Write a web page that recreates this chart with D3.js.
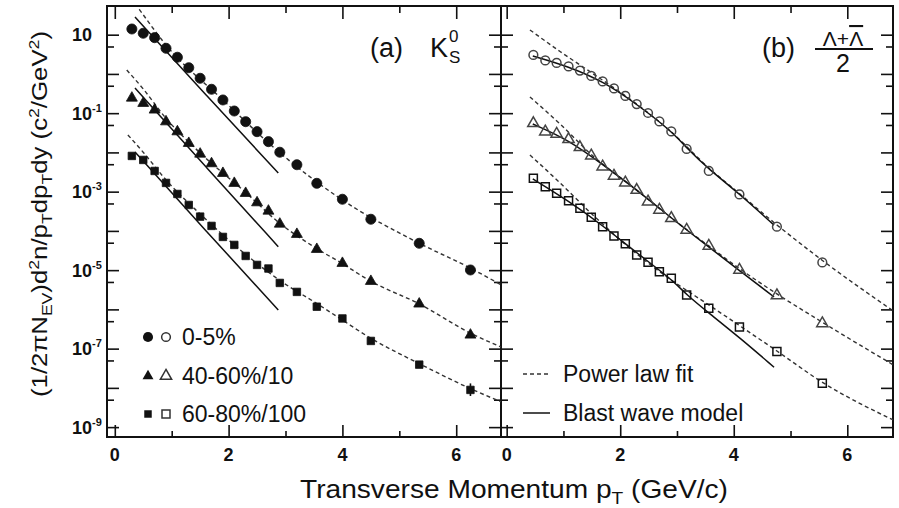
<!DOCTYPE html>
<html>
<head>
<meta charset="utf-8">
<script src="https://cdn.jsdelivr.net/npm/d3@7"></script>
<style>
  body { margin: 0; background: #fff; }
  text { font-family: "Liberation Sans", Arial, Helvetica, sans-serif; fill: #111; }
</style>
</head>
<body>
<svg id="chart" width="899" height="508"></svg>
<script>
// ---- K0s, panel (a) ----
var ptK = [0.3, 0.5, 0.7, 0.9, 1.1, 1.3, 1.5, 1.7, 1.9, 2.1, 2.3, 2.5, 2.7, 2.9, 3.2, 3.55, 4.0, 4.5, 5.35, 6.25];
var k0s_0_5 = [13.96, 10.87, 8.39, 4.50, 2.66, 1.44, 0.774, 0.406, 0.217, 0.1135, 0.0607, 0.0338, 0.0188, 0.0101,
               0.00486, 0.00163, 6.4e-4, 1.98e-4, 4.83e-5, 1.01e-5];
var k0s_40_60 = [0.244, 0.179, 0.121, 0.0607, 0.0338, 0.0171, 0.00912, 0.00519, 0.00294, 0.00164, 9.1e-4, 5.25e-4,
                 3.22e-4, 1.50e-4, 8.22e-5, 3.40e-5, 1.50e-5, 5.21e-6, 1.38e-6, 2.23e-7];
var k0s_60_80 = [0.00813, 0.00643, 0.00337, 0.00167, 8.73e-4, 4.58e-4, 2.31e-4, 1.34e-4, 7.02e-5, 4.39e-5, 2.30e-5,
                 1.36e-5, 1.10e-5, 4.72e-6, 2.79e-6, 1.17e-6, 5.87e-7, 1.57e-7, 3.91e-8, 8.87e-9];
var k0s_60_80_errLo = 6.2e-9, k0s_60_80_errHi = 1.3e-8;   // last point only

// power law fits (dashed)
var kFitPt_0_5 = [0.43, 0.90, 1.90, 2.89, 3.98, 5.35, 6.28, 6.79];
var kFit_0_5 = [44.4, 5.47, 0.217, 0.0101, 6.4e-4, 4.84e-5, 1.07e-5, 4.2e-6];
var kFitPt_40_60 = [0.21, 0.50, 0.88, 1.48, 2.29, 2.89, 3.56, 3.98, 4.49, 5.35, 6.26, 6.79];
var kFit_40_60 = [1.26, 0.414, 0.080, 0.0103, 9.8e-4, 1.6e-4, 3.47e-5, 1.52e-5, 5.3e-6, 1.38e-6, 2.44e-7, 1.1e-7];
var kFitPt_60_80 = [0.23, 0.51, 0.90, 1.50, 2.29, 2.89, 3.56, 3.97, 4.49, 5.38, 6.26, 6.79];
var kFit_60_80 = [0.0279, 0.00968, 0.00199, 2.7e-4, 2.59e-5, 5.6e-6, 1.38e-6, 5.7e-7, 1.87e-7, 3.95e-8, 9.4e-9, 4.4e-9];

// blast wave (solid)
var kBwPt = [0.355, 1.6, 2.873];
var kBw_0_5 = [28.2, 0.291, 0.00299];
var kBw_40_60 = [0.438, 0.00425, 3.97e-5];
var kBw_60_80 = [0.0103, 1.0e-4, 9.7e-7];

// ---- Lambda, panel (b) ----
var ptLam = [0.47, 0.68, 0.88, 1.09, 1.29, 1.49, 1.69, 1.89, 2.09, 2.29, 2.49, 2.69, 2.9, 3.17, 3.56, 4.1, 4.76, 5.56];
var lam_0_5 = [3.04, 2.20, 1.90, 1.55, 1.22, 0.887, 0.643, 0.426, 0.274, 0.171, 0.101, 0.0615, 0.0342, 0.01225,
               0.00337, 8.49e-4, 1.28e-4, 1.57e-5];
var lam_40_60 = [0.0553, 0.0338, 0.0296, 0.0216, 0.01352, 0.00826, 0.00434, 0.00251, 0.00169, 0.0011, 5.56e-4,
                 3.42e-4, 2.1e-4, 1.06e-4, 4.14e-5, 1.01e-5, 2.26e-6, 4.39e-7];
var lam_60_80 = [0.00219, 0.00134, 9.1e-4, 5.9e-4, 3.78e-4, 2.23e-4, 1.28e-4, 7.43e-5, 4.73e-5, 2.44e-5, 1.59e-5,
                 9.16e-6, 6.22e-6, 2.33e-6, 1.07e-6, 3.57e-7, 8.39e-8, 1.32e-8];

var lFitPt = [0.41, 0.94, 1.50, 2.29, 2.90, 3.56, 4.11, 4.76, 5.55, 6.81];
var lFit_0_5 = [13.2, 3.73, 1.06, 0.171, 0.0332, 0.00402, 8.7e-4, 1.42e-4, 1.82e-5, 9.1e-7];
var lFit_40_60 = [0.259, 0.0531, 0.00861, 0.0011, 2.14e-4, 4.14e-5, 1.07e-5, 2.48e-6, 4.8e-7, 3.85e-8];
var lFit_60_80 = [0.00861, 0.00167, 2.7e-4, 2.59e-5, 5.6e-6, 1.3e-6, 3.79e-7, 8.7e-8, 1.42e-8, 1.52e-9];

var lBwPt = [0.46, 1.09, 1.70, 2.29, 2.90, 3.17, 3.56, 4.11, 4.71];
var lBw_0_5 = [2.87, 1.55, 0.643, 0.171, 0.0352, 0.0130, 0.00373, 8.6e-4, 1.40e-4];
var lBw_40_60 = [0.0531, 0.0208, 0.0048, 0.00111, 2.14e-4, 1.06e-4, 3.9e-5, 9.5e-6, 2.07e-6];
var lBw_60_80 = [0.00211, 5.8e-4, 1.34e-4, 2.74e-5, 5.97e-6, 2.33e-6, 8.1e-7, 1.87e-7, 3.36e-8];

// axis ticks
var xMajor = [0, 2, 4, 6];
var xMinor = [1, 3, 5];
var yExpLabels = [1, -1, -3, -5, -7, -9];

// ------------------------------------------------------------------
var svg = d3.select('#chart');
var yTop = 6, yBot = 437;

var y = d3.scaleLog().domain([5.6e-10, 53.8]).range([yBot, yTop]);
var xa = d3.scaleLinear().domain([-0.137, 6.787]).range([107, 501]);
var xb = d3.scaleLinear().domain([-0.100, 6.805]).range([501, 893]);

var yMajor = d3.range(-9, 2).map(function(e){ return Math.pow(10, e); });
var yMinor = d3.range(-9, 1).map(function(e){ return 5 * Math.pow(10, e); });

function axisStyle(g){
    g.select('.domain').remove();
    g.selectAll('line').attr('stroke', '#111').attr('stroke-width', 1.6);
}

function frame(x){
    var x0 = x.range()[0], x1 = x.range()[1];
    // y ticks
    svg.append('g').attr('transform', 'translate(' + x0 + ',0)')
        .call(d3.axisLeft(y).tickValues(yMajor).tickSize(-12).tickFormat('')).call(axisStyle);
    svg.append('g').attr('transform', 'translate(' + x0 + ',0)')
        .call(d3.axisLeft(y).tickValues(yMinor).tickSize(-7).tickFormat('')).call(axisStyle);
    svg.append('g').attr('transform', 'translate(' + x1 + ',0)')
        .call(d3.axisRight(y).tickValues(yMajor).tickSize(-12).tickFormat('')).call(axisStyle);
    svg.append('g').attr('transform', 'translate(' + x1 + ',0)')
        .call(d3.axisRight(y).tickValues(yMinor).tickSize(-7).tickFormat('')).call(axisStyle);
    // x ticks
    svg.append('g').attr('transform', 'translate(0,' + yBot + ')')
        .call(d3.axisBottom(x).tickValues(xMajor).tickSize(-12).tickFormat('')).call(axisStyle);
    svg.append('g').attr('transform', 'translate(0,' + yBot + ')')
        .call(d3.axisBottom(x).tickValues(xMinor).tickSize(-6).tickFormat('')).call(axisStyle);
    svg.append('g').attr('transform', 'translate(0,' + yTop + ')')
        .call(d3.axisTop(x).tickValues(xMajor).tickSize(-13).tickFormat('')).call(axisStyle);
    svg.append('g').attr('transform', 'translate(0,' + yTop + ')')
        .call(d3.axisTop(x).tickValues(xMinor).tickSize(-7).tickFormat('')).call(axisStyle);

    svg.append('rect').attr('x', x0).attr('y', yTop).attr('width', x1 - x0).attr('height', yBot - yTop)
        .attr('fill', 'none').attr('stroke', '#111').attr('stroke-width', 2);

    svg.selectAll(null).data(xMajor).enter().append('text')
        .attr('x', function(d){ return x(d); }).attr('y', 461)
        .attr('text-anchor', 'middle').attr('font-size', 18).attr('font-weight', 'bold')
        .text(function(d){ return d; });
}

frame(xa);
frame(xb);

// y tick labels
yExpLabels.forEach(function(e){
    var t = svg.append('text').attr('x', 72).attr('y', y(Math.pow(10, e)) + 6.5)
        .attr('font-size', 18).attr('font-weight', 'bold');
    t.append('tspan').text('10');
    if (e !== 1) {
        t.append('tspan').attr('font-size', 11).attr('dy', -8).text(String(e));
    }
});

svg.append('clipPath').attr('id', 'clipA').append('rect')
    .attr('x', 107).attr('y', yTop).attr('width', 394).attr('height', yBot - yTop);
svg.append('clipPath').attr('id', 'clipB').append('rect')
    .attr('x', 501).attr('y', yTop).attr('width', 392).attr('height', yBot - yTop);

function curve(g, x, pts, vals, dashed){
    var line = d3.line()
        .x(function(d){ return x(d[0]); })
        .y(function(d){ return y(d[1]); })
        .curve(dashed ? d3.curveMonotoneX : d3.curveBasis);
    g.append('path').datum(d3.zip(pts, vals))
        .attr('d', line).attr('fill', 'none')
        .attr('stroke', dashed ? '#333' : '#111')
        .attr('stroke-width', dashed ? 1.4 : 1.5)
        .attr('stroke-dasharray', dashed ? '4,3' : null);
}

function markers(g, x, pts, vals, type, size, filled, color){
    var sym = d3.symbol().type(type).size(size);
    g.selectAll(null).data(d3.zip(pts, vals)).enter().append('path')
        .attr('d', sym)
        .attr('transform', function(d){ return 'translate(' + x(d[0]) + ',' + y(d[1]) + ')'; })
        .attr('fill', filled ? color : 'none')
        .attr('stroke', color)
        .attr('stroke-width', filled ? 0.8 : 1.5);
}

// panel (a)
var ga = svg.append('g').attr('clip-path', 'url(#clipA)');
curve(ga, xa, kFitPt_0_5, kFit_0_5, true);
curve(ga, xa, kFitPt_40_60, kFit_40_60, true);
curve(ga, xa, kFitPt_60_80, kFit_60_80, true);
curve(ga, xa, kBwPt, kBw_0_5, false);
curve(ga, xa, kBwPt, kBw_40_60, false);
curve(ga, xa, kBwPt, kBw_60_80, false);
ga.append('line')
    .attr('x1', xa(ptK[ptK.length - 1])).attr('x2', xa(ptK[ptK.length - 1]))
    .attr('y1', y(k0s_60_80_errLo)).attr('y2', y(k0s_60_80_errHi))
    .attr('stroke', '#111').attr('stroke-width', 1.6);
markers(ga, xa, ptK, k0s_0_5, d3.symbolCircle, 80, true, '#111');
markers(ga, xa, ptK, k0s_40_60, d3.symbolTriangle, 52, true, '#111');
markers(ga, xa, ptK, k0s_60_80, d3.symbolSquare, 56, true, '#111');

// panel (b)
var gb = svg.append('g').attr('clip-path', 'url(#clipB)');
curve(gb, xb, lFitPt, lFit_0_5, true);
curve(gb, xb, lFitPt, lFit_40_60, true);
curve(gb, xb, lFitPt, lFit_60_80, true);
curve(gb, xb, lBwPt, lBw_0_5, false);
curve(gb, xb, lBwPt, lBw_40_60, false);
curve(gb, xb, lBwPt, lBw_60_80, false);
markers(gb, xb, ptLam, lam_0_5, d3.symbolCircle, 60, false, '#444');
markers(gb, xb, ptLam, lam_40_60, d3.symbolTriangle, 55, false, '#444');
markers(gb, xb, ptLam, lam_60_80, d3.symbolSquare, 64, false, '#111');

// legend (a)
var legA = [
    {t: '0-5%', sym: d3.symbolCircle, s1: 80, s2: 60, yy: 337},
    {t: '40-60%/10', sym: d3.symbolTriangle, s1: 52, s2: 55, yy: 376},
    {t: '60-80%/100', sym: d3.symbolSquare, s1: 56, s2: 64, yy: 414}
];
legA.forEach(function(d){
    svg.append('path').attr('d', d3.symbol().type(d.sym).size(d.s1))
        .attr('transform', 'translate(148,' + d.yy + ')').attr('fill', '#111');
    svg.append('path').attr('d', d3.symbol().type(d.sym).size(d.s2))
        .attr('transform', 'translate(166,' + d.yy + ')').attr('fill', 'none')
        .attr('stroke', '#333').attr('stroke-width', 1.5);
    svg.append('text').attr('x', 182).attr('y', d.yy + 8).attr('font-size', 23).text(d.t);
});

// legend (b)
svg.append('line').attr('x1', 523).attr('x2', 550).attr('y1', 374).attr('y2', 374)
    .attr('stroke', '#333').attr('stroke-width', 1.4).attr('stroke-dasharray', '4,3');
svg.append('text').attr('x', 563).attr('y', 382).attr('font-size', 23).text('Power law fit');
svg.append('line').attr('x1', 523).attr('x2', 550).attr('y1', 413).attr('y2', 413)
    .attr('stroke', '#111').attr('stroke-width', 1.5);
svg.append('text').attr('x', 563).attr('y', 421).attr('font-size', 23).text('Blast wave model');

// panel labels
svg.append('text').attr('x', 370).attr('y', 57).attr('font-size', 27).text('(a)');
svg.append('text').attr('x', 430).attr('y', 57).attr('font-size', 27).text('K');
svg.append('text').attr('x', 449).attr('y', 42).attr('font-size', 17).text('0');
svg.append('text').attr('x', 449).attr('y', 63).attr('font-size', 17).text('S');

svg.append('text').attr('x', 762).attr('y', 57).attr('font-size', 27).text('(b)');
var num = svg.append('text').attr('x', 843).attr('y', 46).attr('text-anchor', 'middle').attr('font-size', 21);
num.append('tspan').text('Λ+');
num.append('tspan').attr('text-decoration', 'overline').text('Λ');
svg.append('line').attr('x1', 815).attr('x2', 873).attr('y1', 49).attr('y2', 49)
    .attr('stroke', '#111').attr('stroke-width', 2);
svg.append('text').attr('x', 843).attr('y', 72).attr('text-anchor', 'middle').attr('font-size', 25).text('2');

// axis titles
var xt = svg.append('text').attr('x', 514).attr('y', 498).attr('text-anchor', 'middle')
    .attr('font-size', 25).attr('textLength', 428).attr('lengthAdjust', 'spacingAndGlyphs');
xt.append('tspan').text('Transverse Momentum p');
xt.append('tspan').attr('font-size', 17).attr('dy', 6).text('T');
xt.append('tspan').attr('dy', -6).text(' (GeV/c)');

var yt = svg.append('text').attr('transform', 'translate(47,214) rotate(-90)')
    .attr('text-anchor', 'middle').attr('font-size', 22)
    .attr('textLength', 366).attr('lengthAdjust', 'spacingAndGlyphs');
yt.append('tspan').text('(1/2πN');
yt.append('tspan').attr('font-size', 15).attr('dy', 5).text('EV');
yt.append('tspan').attr('dy', -5).text(')d');
yt.append('tspan').attr('font-size', 15).attr('dy', -8).text('2');
yt.append('tspan').attr('dy', 8).text('n/p');
yt.append('tspan').attr('font-size', 15).attr('dy', 5).text('T');
yt.append('tspan').attr('dy', -5).text('dp');
yt.append('tspan').attr('font-size', 15).attr('dy', 5).text('T');
yt.append('tspan').attr('dy', -5).text('dy (c');
yt.append('tspan').attr('font-size', 15).attr('dy', -8).text('2');
yt.append('tspan').attr('dy', 8).text('/GeV');
yt.append('tspan').attr('font-size', 15).attr('dy', -8).text('2');
yt.append('tspan').attr('dy', 8).text(')');
</script>
</body>
</html>
